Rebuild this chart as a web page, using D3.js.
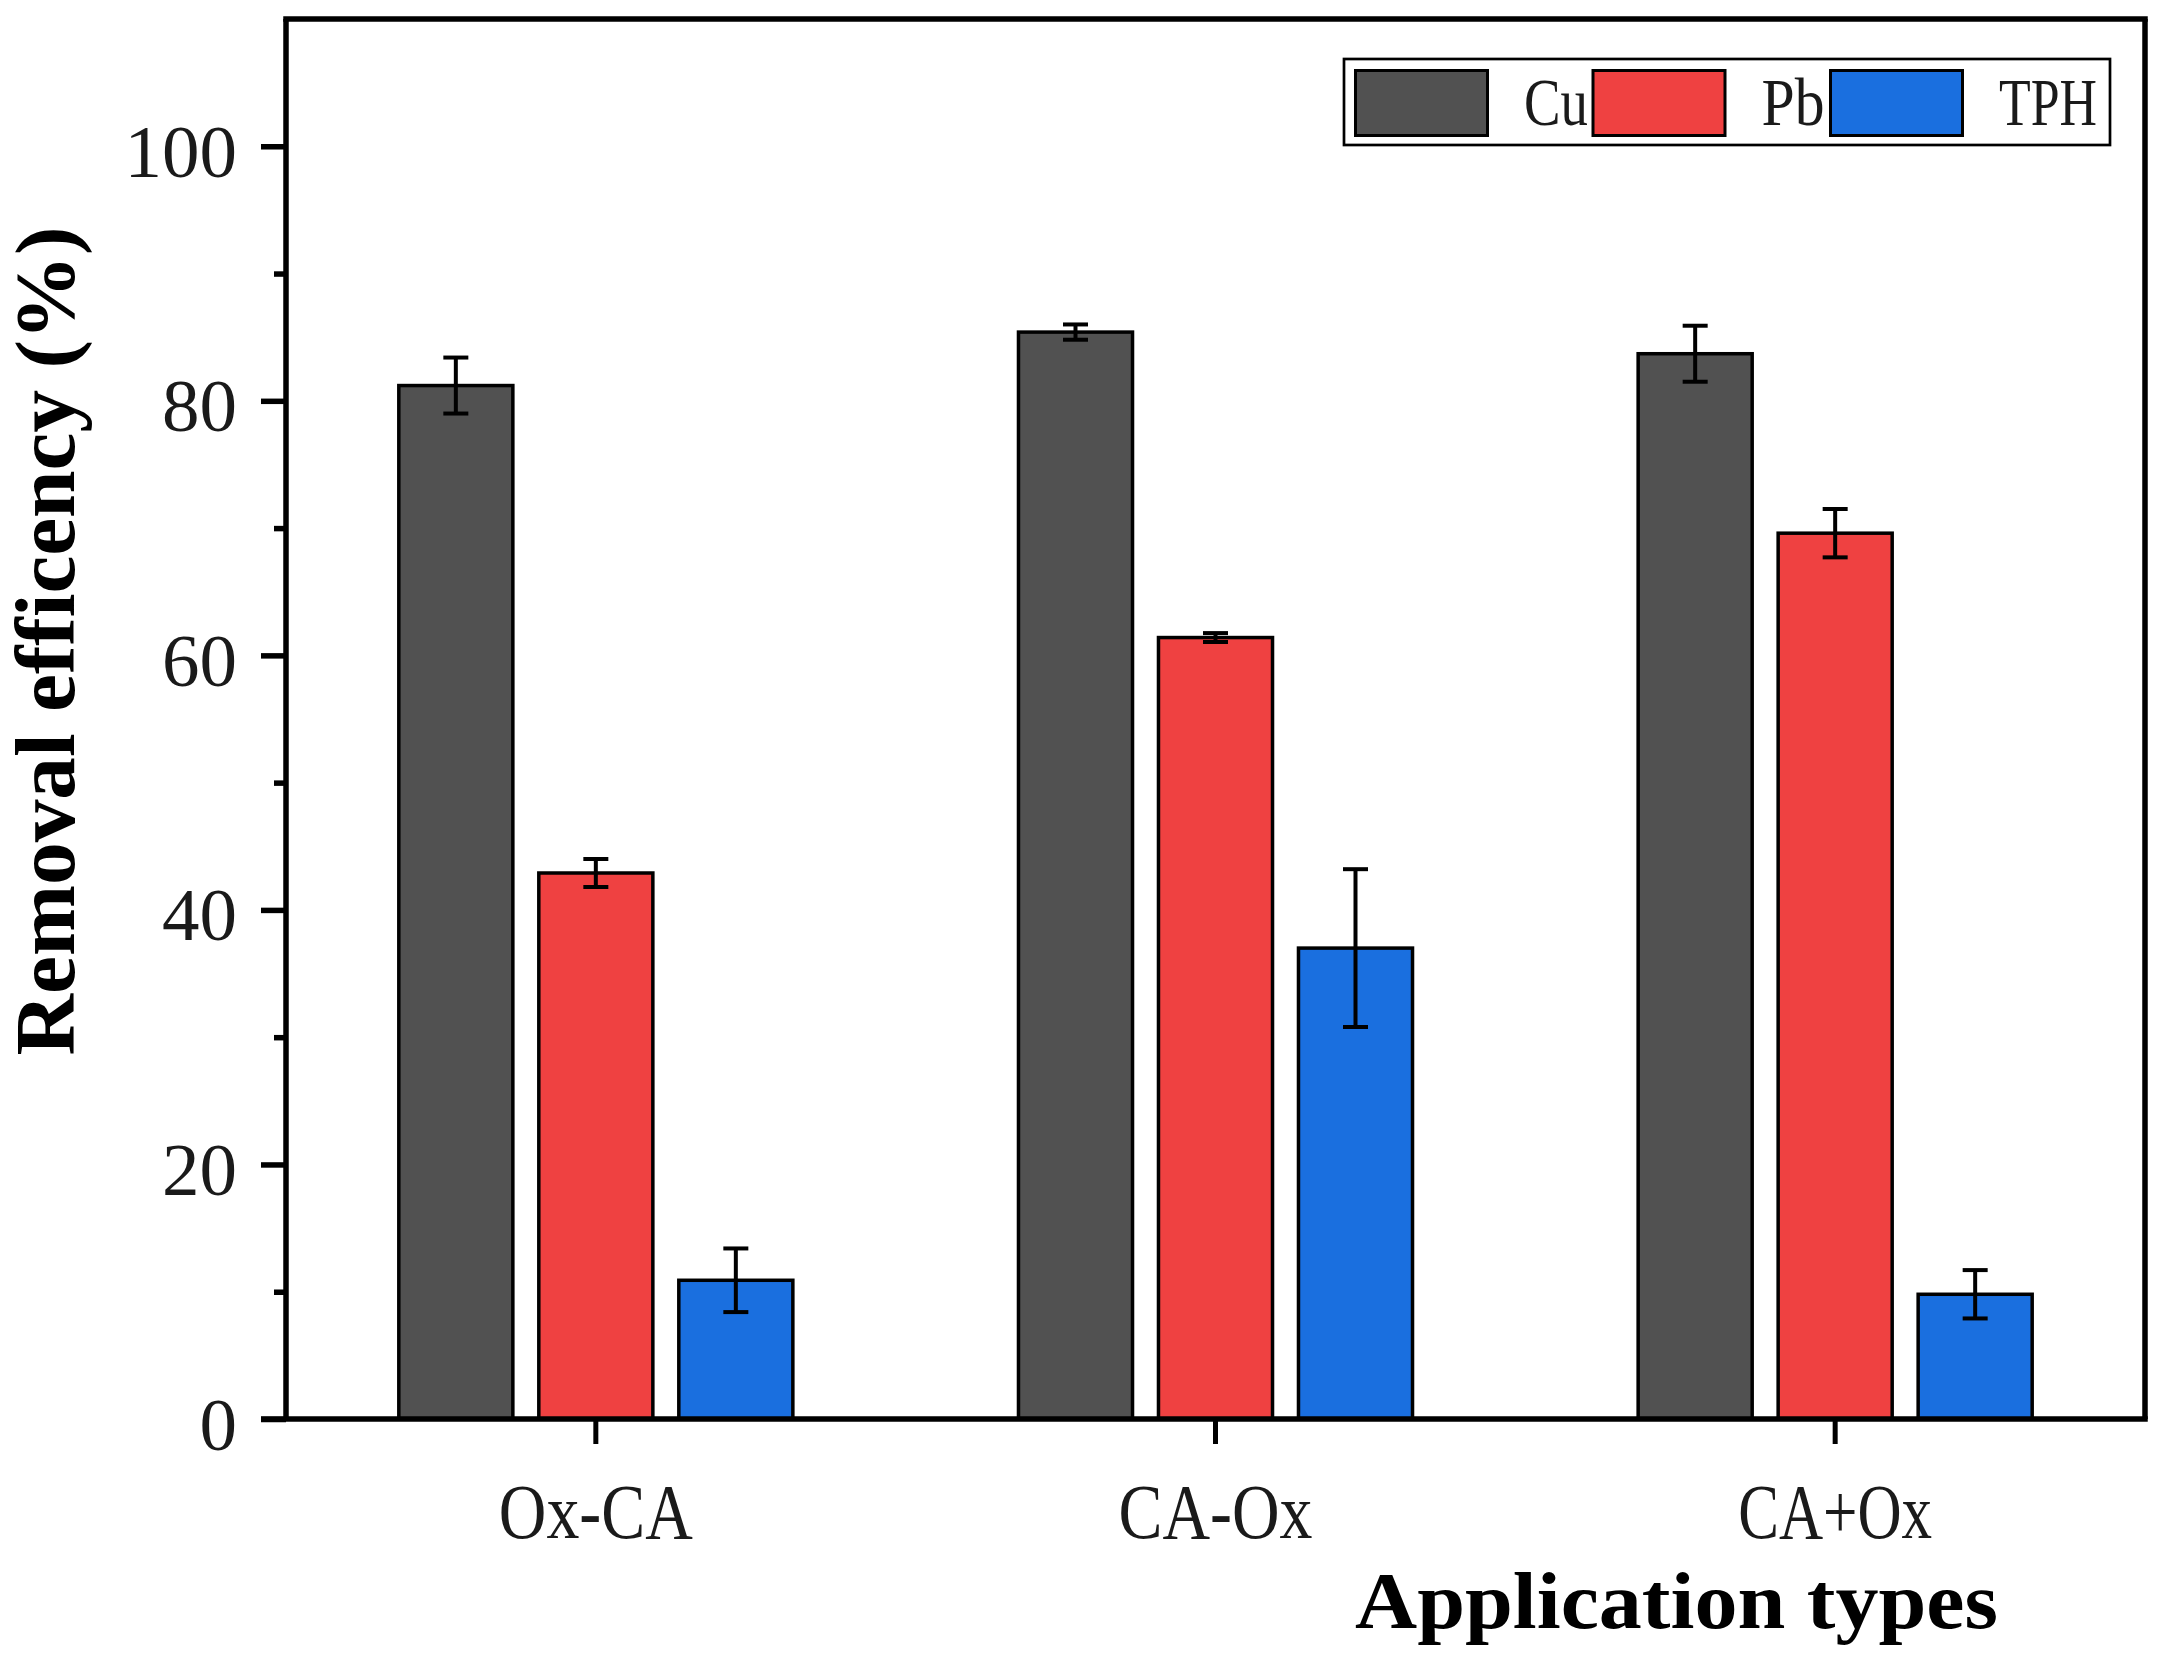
<!DOCTYPE html>
<html>
<head>
<meta charset="utf-8">
<script src="https://cdn.jsdelivr.net/npm/d3@7"></script>
<style>
  body { margin: 0; background: #fff; }
  text { font-family: "Liberation Serif", "Times New Roman", serif; }
</style>
</head>
<body>
<div id="chart"></div>
<script>
// data
const categories = ['Ox-CA', 'CA-Ox', 'CA+Ox'];
const seriesNames = ['Cu', 'Pb', 'TPH'];
const cuValues = [81.2, 85.4, 83.7];
const cuErrors = [2.2, 0.6, 2.2];
const pbValues = [42.9, 61.4, 69.6];
const pbErrors = [1.1, 0.35, 1.9];
const tphValues = [10.9, 37.0, 9.8];
const tphErrors = [2.5, 6.2, 1.9];
const majorTicks = [0, 20, 40, 60, 80, 100];
const minorTicks = [10, 30, 50, 70, 90];
const colors = ['#515151', '#ef4141', '#1a6fdf'];

const values = [cuValues, pbValues, tphValues];
const errors = [cuErrors, pbErrors, tphErrors];

const W = 2168, H = 1660;
const margin = { left: 286, right: 23, top: 19, bottom: 241 };
const innerL = margin.left, innerR = W - margin.right;
const innerT = margin.top, innerB = H - margin.bottom;

const svg = d3.select('#chart').append('svg').attr('width', W).attr('height', H);
svg.append('rect').attr('width', W).attr('height', H).attr('fill', '#fff');

const x0 = d3.scaleBand().domain(categories).range([innerL, innerR]).padding(0);
const groupW = 420;
const x1 = d3.scaleBand().domain(seriesNames).range([0, groupW]).paddingInner(0.164).paddingOuter(0.082);
const y = d3.scaleLinear().domain([0, 110]).range([innerB, innerT]);

// rows for bars
let rows = [];
seriesNames.forEach((s, si) => {
    categories.forEach((c, ci) => {
        rows.push({ s: s, c: c, v: values[si][ci], e: errors[si][ci], color: colors[si] });
    });
});
const gx = (d) => x0(d.c) + (x0.bandwidth() - groupW) / 2 + x1(d.s);

// bars
svg.append('g').attr('class', 'bars').selectAll('rect')
    .data(rows).enter().append('rect')
    .attr('x', (d) => gx(d) + 1.5)
    .attr('width', x1.bandwidth() - 3)
    .attr('y', (d) => y(d.v))
    .attr('height', (d) => y(0) - y(d.v))
    .attr('fill', (d) => d.color)
    .attr('stroke', '#000').attr('stroke-width', 3.5);

// error bars
const eb = svg.append('g').attr('class', 'errors').attr('stroke', '#000').attr('stroke-width', 4);
eb.selectAll('line.v').data(rows).enter().append('line').attr('class', 'v')
    .attr('x1', (d) => gx(d) + x1.bandwidth() / 2).attr('x2', (d) => gx(d) + x1.bandwidth() / 2)
    .attr('y1', (d) => y(d.v + d.e)).attr('y2', (d) => y(d.v - d.e));
['top', 'bot'].forEach((k) => {
    eb.selectAll('line.' + k).data(rows).enter().append('line').attr('class', k)
        .attr('x1', (d) => gx(d) + x1.bandwidth() / 2 - 12.5)
        .attr('x2', (d) => gx(d) + x1.bandwidth() / 2 + 12.5)
        .attr('y1', (d) => y(k === 'top' ? d.v + d.e : d.v - d.e))
        .attr('y2', (d) => y(k === 'top' ? d.v + d.e : d.v - d.e));
});

// y axis, major + minor ticks
const yAxis = d3.axisLeft(y).tickValues(majorTicks).tickSize(25).tickPadding(24);
const yg = svg.append('g').attr('transform', `translate(${innerL}, 0)`).call(yAxis);
yg.select('.domain').remove();
yg.selectAll('line').attr('stroke', '#000').attr('stroke-width', 5.5);
yg.selectAll('text').attr('font-size', 75).attr('fill', '#1a1a1a').attr('dy', '0.4em');

const yMinor = d3.axisLeft(y).tickValues(minorTicks).tickSize(12).tickFormat('');
const ym = svg.append('g').attr('transform', `translate(${innerL}, 0)`).call(yMinor);
ym.select('.domain').remove();
ym.selectAll('line').attr('stroke', '#000').attr('stroke-width', 5.5);

// x axis
const xAxis = d3.axisBottom(x0).tickSize(25).tickPadding(40);
const xg = svg.append('g').attr('transform', `translate(0, ${innerB})`).call(xAxis);
xg.select('.domain').remove();
xg.selectAll('line').attr('stroke', '#000').attr('stroke-width', 5);
xg.selectAll('text').attr('font-size', 78).attr('fill', '#1a1a1a')
    .attr('y', 119).attr('dy', 0)
    .attr('textLength', 194).attr('lengthAdjust', 'spacingAndGlyphs');

// frame
const frame = svg.append('g').attr('stroke', '#000').attr('stroke-width', 5.5).attr('fill', 'none');
frame.append('line').attr('x1', innerL).attr('x2', innerL).attr('y1', innerT).attr('y2', innerB);
frame.append('line').attr('x1', innerR).attr('x2', innerR).attr('y1', innerT).attr('y2', innerB);
frame.append('line').attr('x1', innerL - 2.75).attr('x2', innerR + 2.75).attr('y1', innerT).attr('y2', innerT);
frame.append('line').attr('x1', innerL - 25).attr('x2', innerR + 2.75).attr('y1', innerB).attr('y2', innerB);

// axis titles
svg.append('text').attr('transform', 'translate(73.5, 641) rotate(-90)')
    .attr('text-anchor', 'middle').attr('font-size', 84).attr('font-weight', 'bold')
    .attr('textLength', 829).attr('lengthAdjust', 'spacingAndGlyphs')
    .text('Removal efficency (%)');
svg.append('text').attr('x', 1355).attr('y', 1628)
    .attr('font-size', 80).attr('font-weight', 'bold')
    .attr('textLength', 643).attr('lengthAdjust', 'spacingAndGlyphs')
    .text('Application types');

// legend
const legend = svg.append('g').attr('class', 'legend');
legend.append('rect').attr('x', 1344).attr('y', 59).attr('width', 766).attr('height', 86)
    .attr('fill', '#fff').attr('stroke', '#000').attr('stroke-width', 2.7);
const legendText = [64, 63, 98];
seriesNames.forEach((s, i) => {
    const lx = 1354 + i * 237.5;
    legend.append('rect').attr('x', lx + 1.5).attr('y', 70.5).attr('width', 132).attr('height', 65)
        .attr('fill', colors[i]).attr('stroke', '#000').attr('stroke-width', 3);
    legend.append('text').attr('x', lx + 170).attr('y', 125)
        .attr('font-size', 68).attr('fill', '#1a1a1a')
        .attr('textLength', legendText[i]).attr('lengthAdjust', 'spacingAndGlyphs')
        .text(s);
});
</script>
</body>
</html>
